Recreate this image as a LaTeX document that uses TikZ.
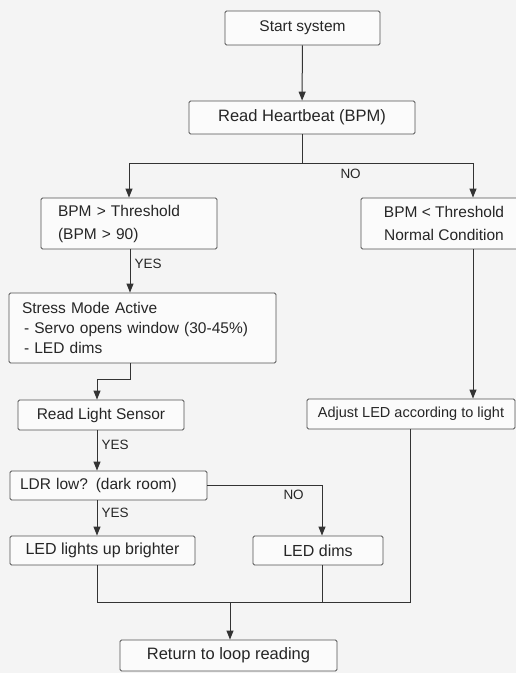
\documentclass[tikz,border=0pt]{standalone}
\usepackage{fontspec}
\setmainfont{Liberation Sans}
\usetikzlibrary{arrows.meta}
\definecolor{linegray}{HTML}{333333}
\definecolor{boxgray}{HTML}{FBFBFB}
\definecolor{bggray}{HTML}{F4F4F4}
\tikzset{
 box/.style={draw=linegray!85, fill=boxgray, text=black!85, rounded corners=1.5pt, line width=0.9pt,
   minimum height=30pt, inner sep=0pt, font=\fontsize{15.5}{23}\selectfont},
 arr/.style={-{Triangle[width=7pt,length=9pt]}},
 lbl/.style={anchor=west, inner sep=0pt, text=black!85, font=\fontsize{13.5}{16}\selectfont},
}

\begin{document}
\begin{tikzpicture}[x=1pt, y=-1pt, color=linegray, line width=1pt]
\fill[bggray] (0,0) rectangle (516,673);
\useasboundingbox (0,0) rectangle (516,673);

\node[box, minimum width=155pt, minimum height=34pt] (start) at (302.5,28) {Start system};
\node[box, minimum width=226pt, minimum height=33pt, font=\fontsize{16.5}{20}\selectfont] (read) at (302,117.5) {Read Heartbeat (BPM)};
\node[box, text width=142pt, inner xsep=17pt, minimum height=51pt, align=left] (high) at (129,223.5) {BPM > Threshold\\(BPM > 90)};
\node[box, minimum width=166pt, minimum height=51pt, align=center] (normal) at (444,223.5) {BPM < Threshold\\Normal Condition};
\node[box, text width=241pt, inner xsep=13pt, minimum height=70pt, align=left, font=\fontsize{15.5}{20}\selectfont] (stress) at (142.5,328) {Stress Mode Active\\\hspace*{2pt}- Servo opens window (30-45\%)\\\hspace*{2pt}- LED dims};
\node[box, minimum width=166pt] (light) at (101,415) {Read Light Sensor};
\node[box, minimum width=208pt, font=\fontsize{14.5}{18}\selectfont] (adjust) at (411,414) {Adjust LED according to light};
\node[box, text width=177pt, inner xsep=10pt, minimum height=29pt, align=left] (ldr) at (108.5,485.5) {LDR low? (dark room)};
\node[box, minimum width=185pt, minimum height=29pt, font=\fontsize{16}{20}\selectfont] (bright) at (102.5,550.5) {LED lights up brighter};
\node[box, minimum width=130pt, minimum height=29pt, font=\fontsize{16}{20}\selectfont] (dims) at (318,550.5) {LED dims};
\node[box, minimum width=217pt, minimum height=31pt, font=\fontsize{16.5}{20}\selectfont] (ret) at (228.5,655.5) {Return to loop reading};

\coordinate (colA) at (130,0);
\coordinate (colB) at (97,0);
\coordinate (colD) at (322,0);
\coordinate (colM) at (410,0);
\coordinate (colR) at (473,0);
\coordinate (split) at (302,163);
\coordinate (join) at (230,602);

\draw[arr] (start) -- (read);
\draw (read.south) -- (split);
\draw[arr] (split) -| (high.north);
\draw[arr] (split) -| (normal.north -| colR);
\node[lbl] (no1) at (340,174) {NO};

\draw[arr] (high.south -| colA) -- (stress.north -| colA);
\node[lbl] (yes1) at (134,264) {YES};
\draw[arr] (stress.south -| colA) -- ++(0,16) -| (light.north -| colB);
\draw[arr] (normal.south -| colR) -- (adjust.north -| colR);

\draw[arr] (light.south -| colB) -- (ldr.north -| colB);
\node[lbl] (yes2) at (101,445) {YES};
\draw[arr] (ldr.east) -| (dims.north -| colD);
\node[lbl] (no2) at (283,495) {NO};
\draw[arr] (ldr.south -| colB) -- (bright.north -| colB);
\node[lbl] (yes3) at (101,513) {YES};

\draw (bright.south -| colB) -- (join -| colB) -- (join -| colM) -- (adjust.south -| colM);
\draw (dims.south -| colD) -- (join -| colD);
\draw[arr] (join) -- (ret.north -| join);
\end{tikzpicture}
\end{document}
